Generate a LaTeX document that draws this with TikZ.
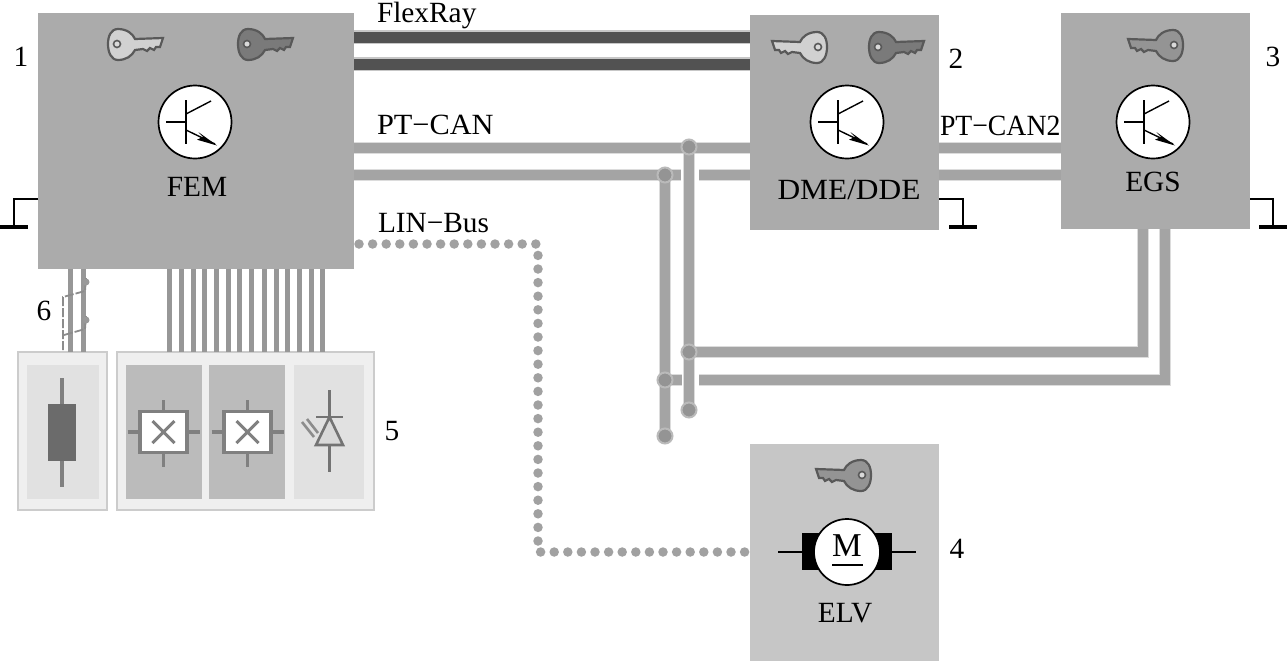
\documentclass[tikz,border=0pt]{standalone}
\usepackage{fontspec}
\setmainfont{Liberation Serif}
\usetikzlibrary{arrows.meta}
\def\px{0.75pt}
\definecolor{unitgray}{HTML}{ABABAB}
\definecolor{elvgray}{HTML}{C6C6C6}
\definecolor{busgray}{HTML}{A4A4A4}
\definecolor{busedge}{HTML}{DCDCDC}
\definecolor{flexdark}{HTML}{525252}
\definecolor{wiregray}{HTML}{979797}
\definecolor{panelout}{HTML}{EFEFEF}
\definecolor{panelin}{HTML}{E1E1E1}
\definecolor{panelmid}{HTML}{BBBBBB}
\tikzset{
  every node/.style={font=\fontsize{22}{24}\selectfont,inner sep=0pt,outer sep=0pt,text=black},
  unit/.style={fill=unitgray,draw=none,anchor=north west},
  panel/.style={fill=panelout,draw=black!20,line width=1.5*\px,anchor=north west},
  inset/.style={draw=none,anchor=north west},
  relaybox/.style={fill=white,draw=black!50,line width=3.5*\px,minimum width=47*\px,minimum height=41*\px},
  flexbus/.style={draw=flexdark,line width=11*\px,preaction={draw=black!22,line width=14*\px}},
  canbus/.style={draw=busgray,line width=10*\px,preaction={draw=busedge,line width=12.5*\px}},
  linbus/.style={draw=wiregray!90,line width=9.5*\px,line cap=round,dash pattern=on 0pt off 13.6*\px},
  wire/.style={draw=wiregray,line width=5*\px},
  tap/.style={circle,minimum size=15*\px,fill=black!42,draw=black!27,line width=2*\px},
  fine/.style={draw=black,line width=1.4*\px},
  earthbar/.style={draw=black,line width=3.4*\px},
  detail/.style={draw=black!50,line width=3.5*\px},
  pics/key/.style={code={
    \path[fill=#1,draw=black!65,line width=2.2*\px]
      (-4,-15) .. controls (5,-15) and (11,-10) .. (13,-5)
      -- (41,-6) -- (38,3) -- (34,3) -- (32,6) -- (28,4) -- (25,7) -- (21,5) -- (13,6)
      .. controls (10,12) and (4,16) .. (-4,16)
      .. controls (-11,16) and (-14,8) .. (-14,0)
      .. controls (-14,-8) and (-11,-15) .. (-4,-15) -- cycle;
    \path[fill=white!85!black,draw=black!65,line width=1.6*\px] (-5,0) circle (3.5);
  }},
  pics/transistor/.style={code={
    \path[fill=white,draw=black,line width=1.7*\px] (0,0) circle (36.5);
    \draw[fine] (-29,0) -- (-9,0);
    \draw[fine,line width=1.7*\px] (-9,-22) -- (-9,22);
    \draw[fine] (-9,-8) -- (16,-21);
    \draw[fine] (-9,8) -- (20,22);
    \path[fill=black] (22,23.5) -- (3.3,10) -- (8,15) -- (2,17.7) -- cycle;
  }},
  pics/earth/.style={code={
    \draw[fine] (0,0) -- (#1,0) -- (#1,28);
    \draw[earthbar] (#1-14,28) -- (#1+14,28);
  }},
  pics/relaymark/.style={code={
    \draw[draw=black!50,line width=3*\px] (-11,-11) -- (11,11) (-11,11) -- (11,-11);
  }}
}
\begin{document}
\begin{tikzpicture}[x=0.75pt,y=-0.75pt]
\useasboundingbox[fill=white] (0,0) rectangle (1287,661);

% control units
\node[unit,minimum width=316*\px,minimum height=256*\px] (fem) at (38,13) {};
\node[unit,minimum width=189*\px,minimum height=215*\px] (dme) at (750,15) {};
\node[unit,minimum width=189*\px,minimum height=216*\px] (egs) at (1061,13) {};
\node[unit,fill=elvgray,minimum width=189*\px,minimum height=217*\px] (elv) at (750,444) {};

% switch and lamp panels
\node[panel,minimum width=89*\px,minimum height=158*\px] (fuse) at (18,352) {};
\node[panel,minimum width=257*\px,minimum height=158*\px] (loads) at (117,352) {};
\node[inset,fill=panelin,minimum width=72*\px,minimum height=134*\px] (fusein) at (27,365) {};
\node[inset,fill=panelmid,minimum width=76*\px,minimum height=134*\px] (sw1) at (126,365) {};
\node[inset,fill=panelmid,minimum width=76*\px,minimum height=134*\px] (sw2) at (209,365) {};
\node[inset,fill=panelin,minimum width=70*\px,minimum height=134*\px] (lamp) at (294,365) {};

% FlexRay and PT-CAN between the units
\draw[flexbus] (fem.east |- 0,37) -- (dme.west |- 0,37);
\draw[flexbus] (fem.east |- 0,64) -- (dme.west |- 0,64);
\coordinate (gapL) at (681,175);
\coordinate (gapR) at (699,175);
\draw[canbus] (fem.east |- 0,148) -- (dme.west |- 0,148);
\draw[canbus] (fem.east |- 0,175) -- (gapL);
\draw[canbus] (gapR) -- (dme.west |- 0,175);
\draw[canbus] (dme.east |- 0,148) -- (egs.west |- 0,148);
\draw[canbus] (dme.east |- 0,175) -- (egs.west |- 0,175);

% tap points on the PT-CAN branch
\coordinate (tA) at (689,147);
\coordinate (tB) at (665,175);
\coordinate (tC) at (689,352);
\coordinate (tD) at (665,380);
\coordinate (stubD) at (682,380);
\coordinate (backD) at (699,380);
\coordinate (tE) at (689,410);
\coordinate (tF) at (665,436);
\draw[canbus] (egs.south -| 1143,0) |- (tC);
\draw[canbus] (egs.south -| 1165,0) |- (backD);
\draw[canbus] (tD) -- (stubD);
\draw[canbus] (tA) -- (tE);
\draw[canbus] (tB) -- (tF);
\node[tap] (nA) at (tA) {};
\node[tap] (nB) at (tB) {};
\node[tap] (nC) at (tC) {};
\node[tap] (nD) at (tD) {};
\node[tap] (nE) at (tE) {};
\node[tap] (nF) at (tF) {};

% LIN bus
\coordinate (linA) at (359,244);
\coordinate (linB) at (538,244);
\coordinate (linC) at (538,552);
\coordinate (linD) at (745,552);
\draw[linbus] (linA) -- (linB) -- (linC) -- (linD);

% wires down to the panels
\foreach \wx in {169,181,193,204,216,228,239,251,264,276,287,299,311,322}
  \draw[wire] (fem.south -| \wx,0) -- (loads.north -| \wx,0);
\foreach \wx in {70,83}
  \draw[wire] (fem.south -| \wx,0) -- (fuse.north -| \wx,0);
\draw[black!45,line width=1.8*\px,dash pattern=on 9*\px off 2*\px]
  (63,350) -- (63,297) -- (85,291) -- (86,278)
  (64,335) -- (85,329) -- (86,316);
\path[fill=black!40] (86,282) circle (3.5) (86,320) circle (3.5);

% fuse
\draw[detail] (62,378) -- (62,487);
\path[fill=black!58] (48,404) rectangle (76,461);

% relays
\foreach \rx/\rn in {163.5/ra,247.5/rb}{
  \draw[detail] (\rx-36,432) -- (\rx+36,432) (\rx,400) -- (\rx,467);
  \node[relaybox] (\rn) at (\rx,432) {};
  \pic at (\rx,432) {relaymark};
}

% light-emitting diode
\draw[black!55,line width=2.6*\px] (329.5,390) -- (329.5,472);
\path[fill=white!85!black,draw=black!55,line width=2.6*\px] (329.5,417) -- (343,445) -- (316,445) -- cycle;
\draw[black!55,line width=2.6*\px] (316,417) -- (343,417);
\draw[black!45,line width=2.6*\px] (302,422) -- (314,437) (307,419) -- (318,433);

% transistors
\pic at (195,122) {transistor};
\pic at (847,122) {transistor};
\pic at (1153,122) {transistor};

% keys
\pic at (122,44) {key=black!18};
\pic at (252,44) {key=black!52};
\pic[xscale=-1] at (813,47) {key=black!18};
\pic at (883,47) {key=black!52};
\pic[xscale=-1] at (1169,45) {key=black!42};
\pic[xscale=-1] at (857,475) {key=black!42};

% motor
\path[fill=black] (802,533) rectangle (892,570);
\draw[fine] (778,552) -- (916,552);
\node[circle,fill=white,draw=black,line width=1.7*\px,minimum size=66*\px] (motor) at (847,552) {};
\node[font=\fontsize{25}{27}\selectfont] (mlabel) at (847,546) {M};
\draw[fine] (832,565) -- (863,565);

% earth connections
\pic at (fem.west |- 0,199) {earth=-24};
\pic at (dme.east |- 0,199) {earth=24};
\pic at (egs.east |- 0,199) {earth=23};

% labels
\node (tFEM) at (197,187) {FEM};
\node[xscale=1.07] (tDME) at (849,190) {DME/DDE};
\node (tEGS) at (1153,182) {EGS};
\node (tELV) at (845,613) {ELV};
\node[anchor=base west] (tFlex) at (377,22) {FlexRay};
\node[anchor=base west,xscale=1.035] (tPT) at (377,134) {PT−CAN};
\node[anchor=base west] (tLIN) at (378,232) {LIN−Bus};
\node[anchor=base west,xscale=0.945] (tPT2) at (940,135) {PT−CAN2};
\node (n1) at (21,57) {1};
\node (n2) at (956,59) {2};
\node (n3) at (1273,57) {3};
\node (n4) at (957,549) {4};
\node (n5) at (392,431) {5};
\node (n6) at (44,311) {6};
\end{tikzpicture}
\end{document}
